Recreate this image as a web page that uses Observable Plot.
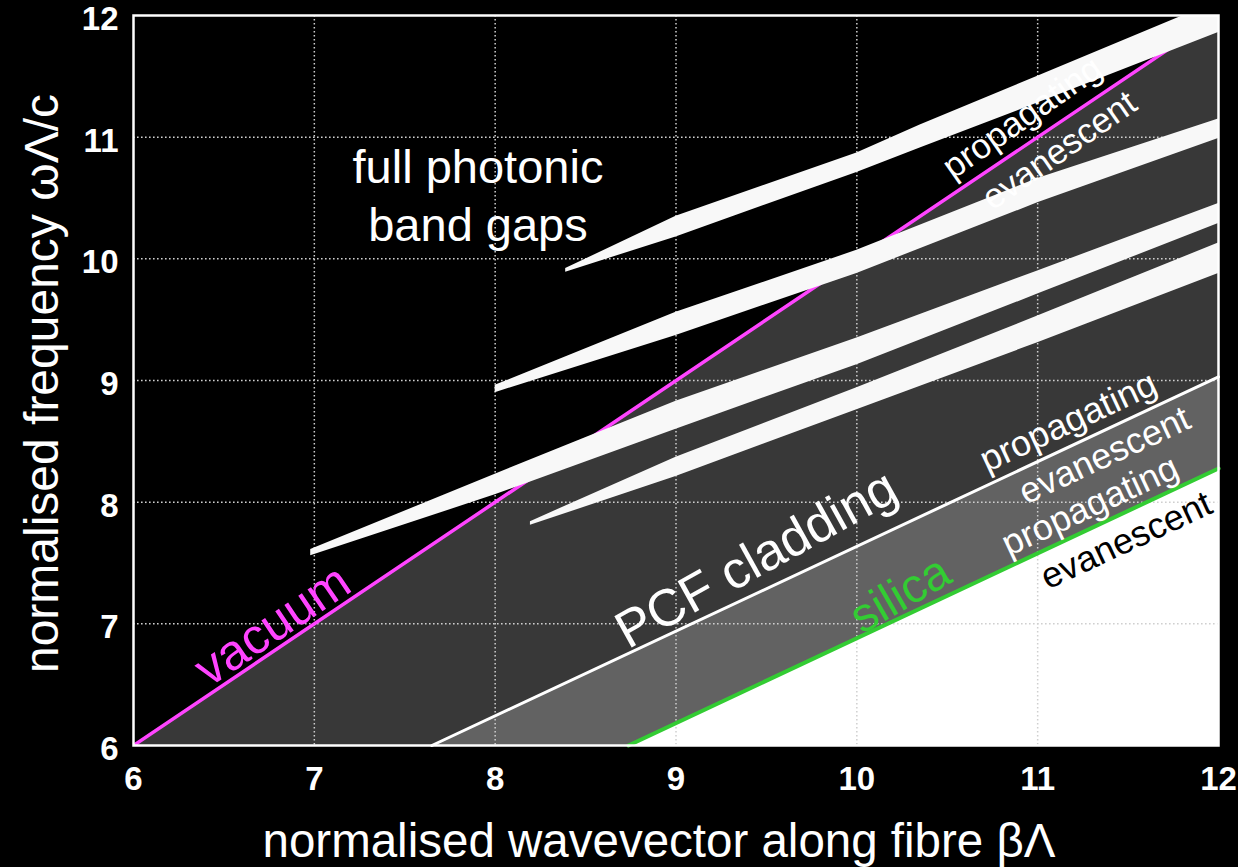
<!DOCTYPE html>
<html><head><meta charset="utf-8">
<script src="https://cdn.jsdelivr.net/npm/d3@7"></script>
<script src="https://cdn.jsdelivr.net/npm/@observablehq/plot@0.6"></script>
<style>
html,body{margin:0;padding:0;background:#000;}
#chart svg{display:block}
</style></head><body><div id="chart"></div>
<script>
// axes
const xTicks = [6, 7, 8, 9, 10, 11, 12];
const yTicks = [6, 7, 8, 9, 10, 11, 12];
const xDomain = [6, 12];
const yDomain = [6, 12];

// light lines (β, ω)
const vacuumLine = [[6, 6], [12, 12]];
const pcfLine = [[7.65, 6], [12, 9.03]];
const silicaLine = [[8.737, 6], [12, 8.277]];

// band-gap slivers: x, lower edge, upper edge
const band1X  = [8.39, 9.0, 10.0, 10.35, 11.0, 12.0];
const band1Lo = [9.89, 10.18, 10.71, 10.91, 11.28, 11.86];
const band1Hi = [9.92, 10.35, 10.87, 11.10, 11.50, 12.12];

const band2X  = [8.0, 9.0, 10.0, 11.0, 12.0];
const band2Lo = [8.90, 9.37, 9.88, 10.46, 10.99];
const band2Hi = [8.96, 9.56, 10.07, 10.66, 11.15];

const band3X  = [6.98, 8.0, 9.0, 10.0, 11.0, 12.0];
const band3Lo = [7.56, 8.06, 8.60, 9.13, 9.71, 10.29];
const band3Hi = [7.61, 8.23, 8.83, 9.35, 9.90, 10.455];

const band4X  = [8.195, 9.0, 10.0, 11.0, 12.0];
const band4Lo = [7.81, 8.21, 8.76, 9.31, 9.88];
const band4Hi = [7.84, 8.37, 8.94, 9.53, 10.13];

// annotations
const labelText = ["full photonic\nband gaps", "vacuum", "PCF cladding", "silica",
  "propagating", "evanescent", "propagating", "evanescent", "propagating", "evanescent"];
const labelX = [7.905, 6.769, 9.445, 10.24, 10.915, 11.12, 11.17, 11.37, 11.29, 11.49];
const labelY = [10.535, 6.985, 7.53, 7.24, 11.16, 10.89, 8.66, 8.384, 7.97, 7.685];

const xyOf = d => ({x: d[0], y: d[1]});
const bandRows = (X, Lo, Hi) => X.map((x, i) => ({x, lo: Lo[i], hi: Hi[i]}));
const bands = [bandRows(band1X, band1Lo, band1Hi), bandRows(band2X, band2Lo, band2Hi),
               bandRows(band3X, band3Lo, band3Hi), bandRows(band4X, band4Lo, band4Hi)];
const labels = labelText.map((t, i) => ({text: t, x: labelX[i], y: labelY[i]}));

const font = "'Liberation Sans', Arial, Helvetica, sans-serif";
const labelStyle = [
  {fill: "white", size: 47, angle: 0, lh: 1.22},
  {fill: "#ff44ff", size: 50, angle: -34},
  {fill: "white", size: 52, angle: -29},
  {fill: "#33cc33", size: 48, angle: -30},
  {fill: "white", size: 35, angle: -35},
  {fill: "white", size: 35, angle: -35},
  {fill: "white", size: 36, angle: -25},
  {fill: "white", size: 36, angle: -25},
  {fill: "white", size: 36, angle: -25},
  {fill: "black", size: 36, angle: -25}
];

const base = yDomain[0];
const chart = Plot.plot({
  width: 1238,
  height: 867,
  marginLeft: 133,
  marginRight: 20,
  marginTop: 15,
  marginBottom: 122,
  style: {background: "black", color: "white", fontFamily: font},
  x: {domain: xDomain},
  y: {domain: yDomain},
  marks: [
    Plot.area(vacuumLine.map(xyOf), {x1: "x", y1: () => base, y2: "y", fill: "#383838"}),
    Plot.area(pcfLine.map(xyOf), {x1: "x", y1: () => base, y2: "y", fill: "#626262"}),
    Plot.area(silicaLine.map(xyOf), {x1: "x", y1: () => base, y2: "y", fill: "white"}),
    Plot.gridX(xTicks.slice(1, -1), {stroke: "#cfcfcf", strokeOpacity: 1, strokeWidth: 1.5, strokeDasharray: "1.6,2.4"}),
    Plot.gridY(yTicks.slice(1, -1), {stroke: "#cfcfcf", strokeOpacity: 1, strokeWidth: 1.5, strokeDasharray: "1.6,2.4"}),
    Plot.line(pcfLine.map(xyOf), {x: "x", y: "y", stroke: "white", strokeWidth: 3}),
    Plot.line(silicaLine.map(xyOf), {x: "x", y: "y", stroke: "#33cc33", strokeWidth: 4}),
    Plot.line(vacuumLine.map(xyOf), {x: "x", y: "y", stroke: "#ff44ff", strokeWidth: 3.5, clip: true}),
    ...bands.map(b => Plot.area(b, {x1: "x", y1: "lo", y2: "hi", fill: "#f8f8f8", clip: true})),
    ...labels.map((l, i) => Plot.text([l], {
      x: "x", y: "y", text: "text",
      fill: labelStyle[i].fill, fontSize: labelStyle[i].size, rotate: labelStyle[i].angle,
      lineHeight: labelStyle[i].lh || 1, textAnchor: "middle", lineAnchor: "middle"
    })),
    Plot.frame({stroke: "white", strokeWidth: 2.5}),
    Plot.axisX(xTicks, {tickSize: 0, tickPadding: 21, fontSize: 33, fontWeight: "bold", fill: "white", label: null, tickFormat: "d"}),
    Plot.axisY(yTicks, {tickSize: 0, tickPadding: 15, fontSize: 33, fontWeight: "bold", fill: "white", label: null, tickFormat: "d", dy: 4}),
    Plot.text(["normalised wavevector along fibre βΛ"], {frameAnchor: "bottom", dy: 96, dx: -17, fontSize: 47.5, fill: "white", lineAnchor: "middle"}),
    Plot.text(["normalised frequency ωΛ/c"], {frameAnchor: "left", dx: -91, dy: 3, rotate: -90, fontSize: 48, fill: "white", lineAnchor: "middle", textAnchor: "middle"})
  ]
});
document.getElementById("chart").appendChild(chart);
</script>
</body></html>
